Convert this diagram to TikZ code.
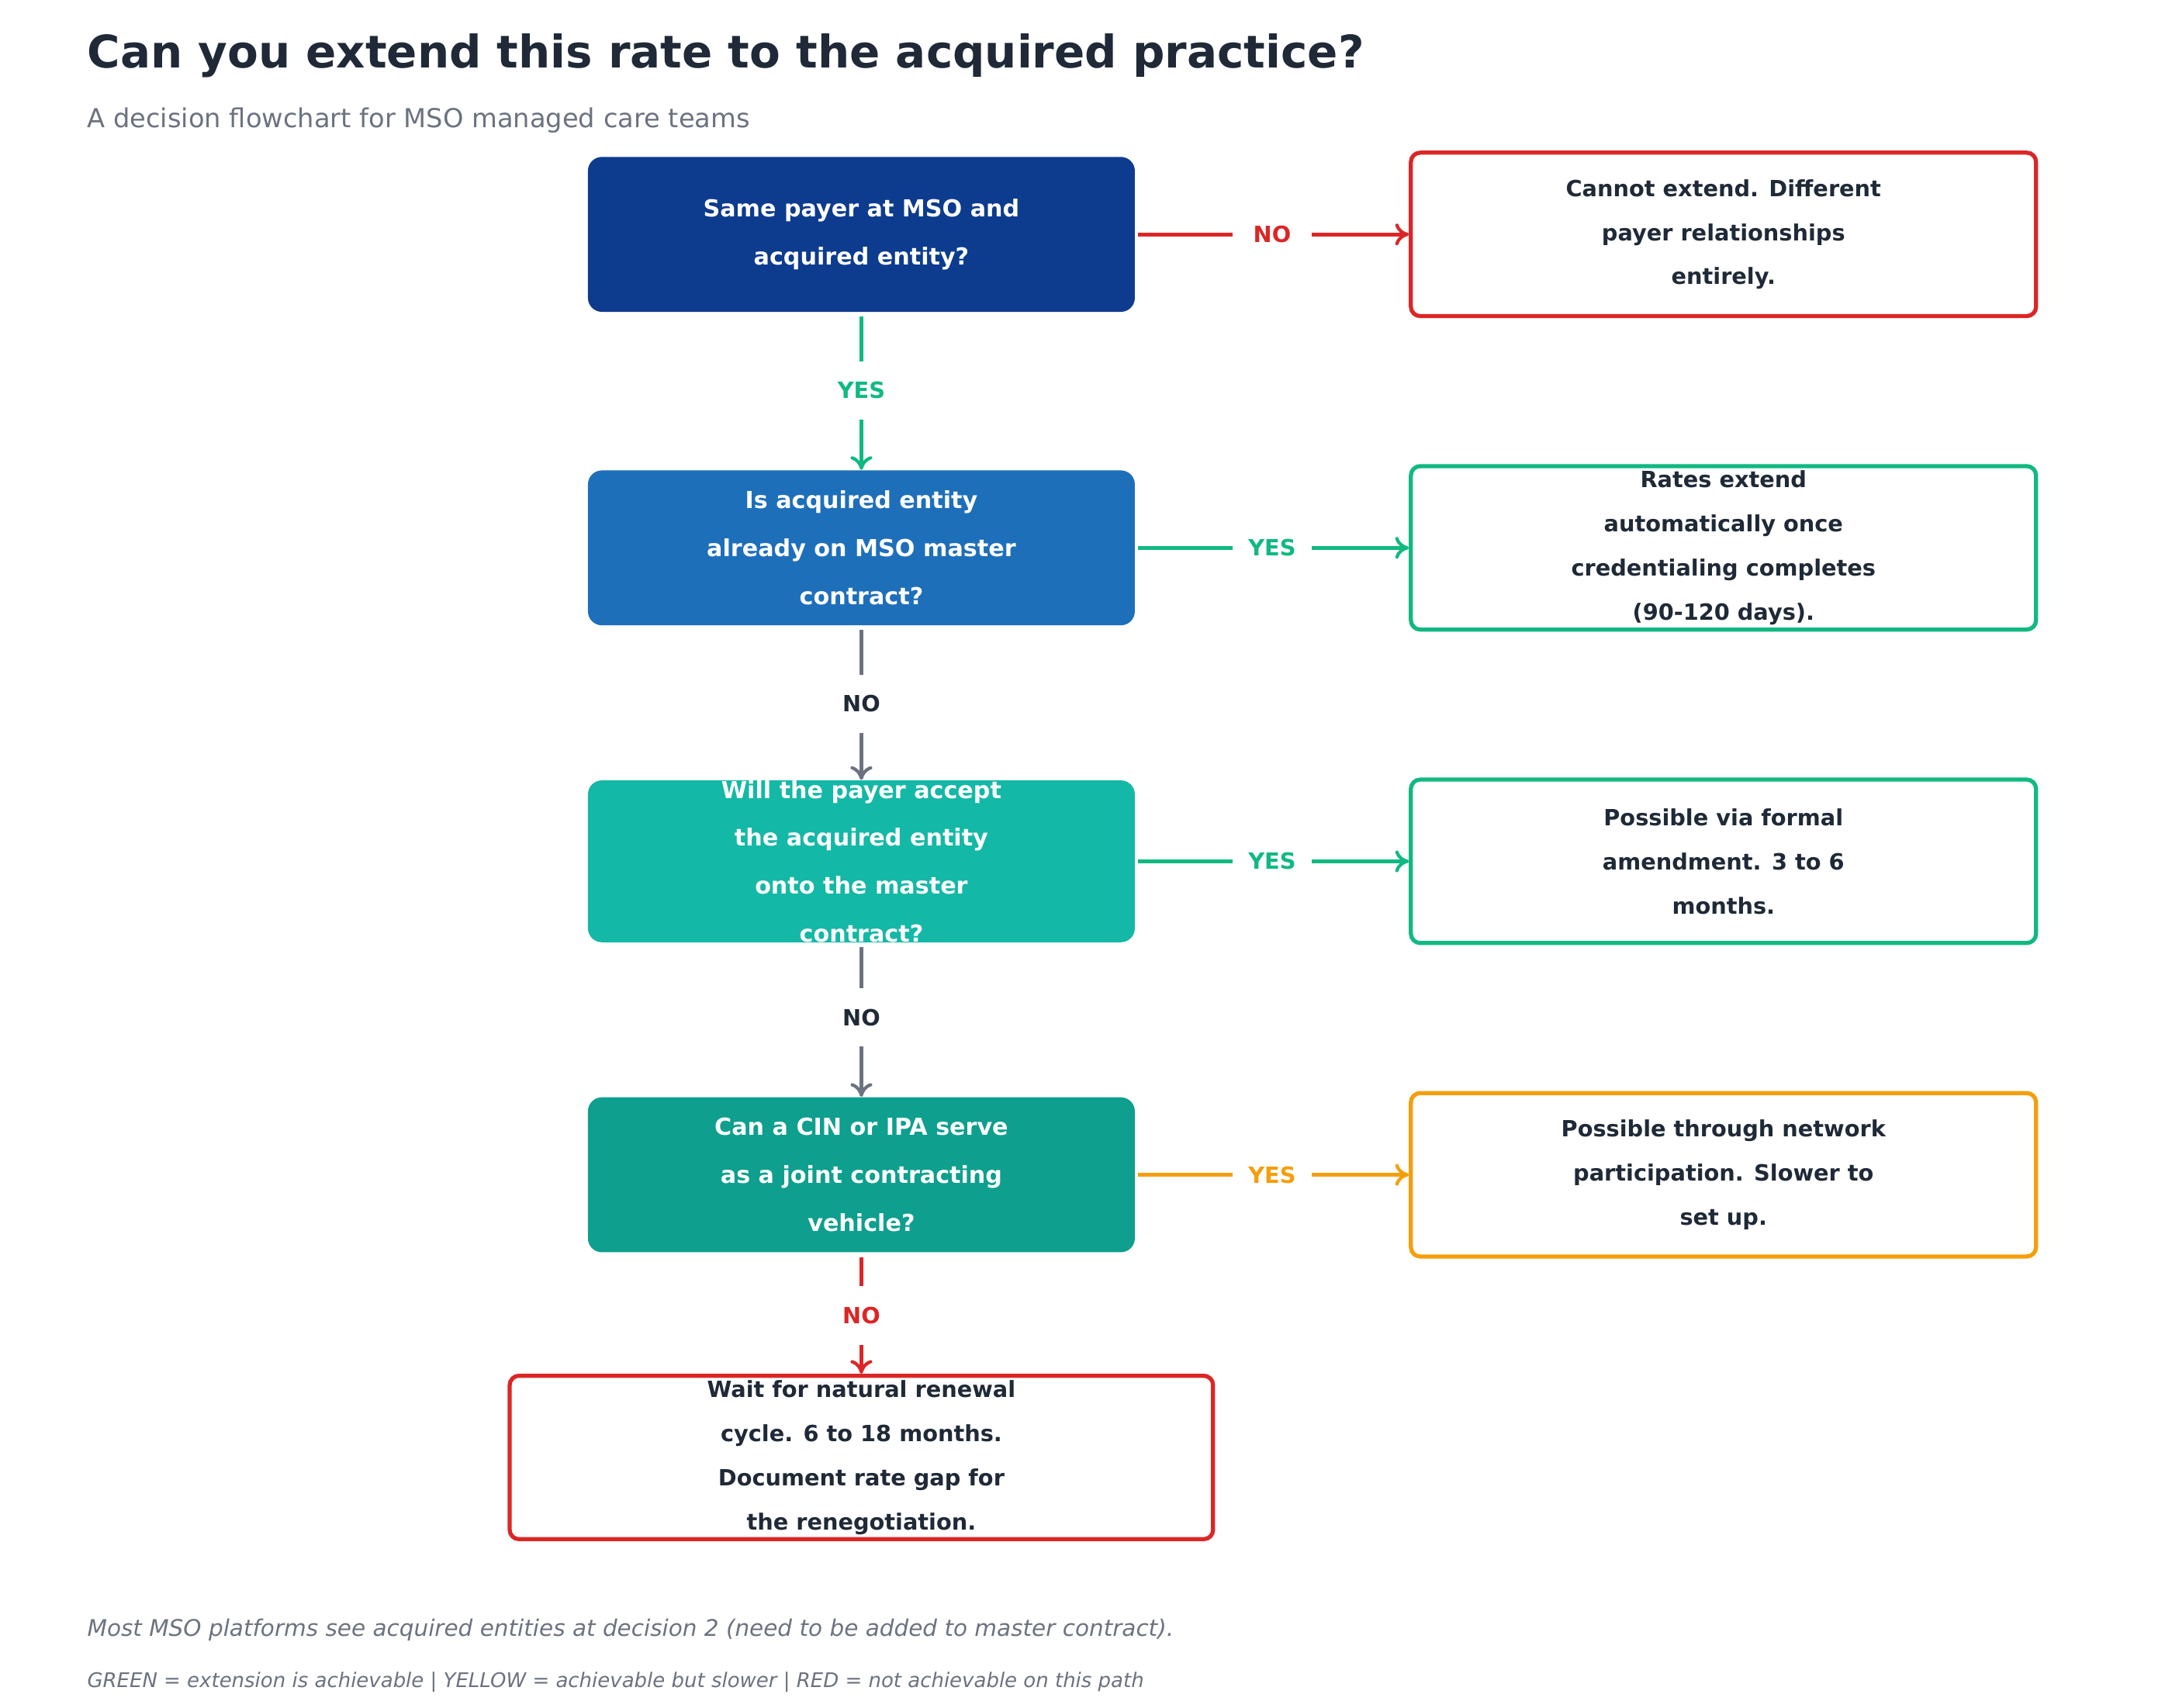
\documentclass[tikz,border=0pt]{standalone}
\usepackage{fontspec}
\setmainfont{DejaVu Sans}
\usetikzlibrary{arrows.meta,positioning}
\definecolor{ink}{HTML}{1F2937}
\definecolor{mute}{HTML}{6B7280}
\definecolor{navy}{HTML}{0D3B8E}
\definecolor{midblue}{HTML}{1E6FBA}
\definecolor{teal}{HTML}{14B8A6}
\definecolor{deepteal}{HTML}{0E9F8E}
\definecolor{okgreen}{HTML}{10B981}
\definecolor{badred}{HTML}{DC2626}
\definecolor{slowamber}{HTML}{F59E0B}
\tikzset{
  question/.style={rounded corners=0.18cm, minimum width=7.06cm, minimum height=2.0cm,
    inner sep=0pt, align=center, text=white,
    font=\fontsize{8.6}{17.6}\selectfont\bfseries},
  outcome/.style={draw, line width=1.5pt, rounded corners=0.12cm, minimum width=8.07cm,
    minimum height=2.11cm, inner sep=0pt, align=center, fill=white, text=ink,
    font=\fontsize{8.2}{16.2}\selectfont\bfseries},
  tag/.style={minimum width=1.01cm, minimum height=0.74cm, inner sep=0pt,
    font=\fontsize{8.2}{10}\selectfont\bfseries},
  link/.style={line width=1.5pt},
  arrow/.style={link, -{To[length=5pt,width=8pt,line width=1.2pt]}}
}
\begin{document}
\begin{tikzpicture}[x=0.01806cm, y=-0.01806cm]
\useasboundingbox (0,0) rectangle (1552,1220);

% title
\node[anchor=west, inner sep=0, text=ink, font=\fontsize{16.5}{20}\selectfont\bfseries] (title) at (62,40) {Can you extend this rate to the acquired practice?};
\node[anchor=west, inner sep=0, text=mute, font=\fontsize{9.6}{12}\selectfont] (subtitle) at (62,86) {A decision flowchart for MSO managed care teams};

% decisions
\node[question, fill=navy] (q1) at (615.5,167.5) {Same payer at MSO and\\acquired entity?};
\node[question, fill=midblue] (q2) at (615.5,391.5) {Is acquired entity\\already on MSO master\\contract?};
\node[question, fill=teal] (q3) at (615.5,615.5) {Will the payer accept\\the acquired entity\\onto the master\\contract?};
\node[question, fill=deepteal] (q4) at (615.5,839.5) {Can a CIN or IPA serve\\as a joint contracting\\vehicle?};

% outcomes
\node[outcome, draw=badred] (r1) at (1231.5,167.5) {Cannot extend. Different\\payer relationships\\entirely.};
\node[outcome, draw=okgreen] (r2) at (1231.5,391.5) {Rates extend\\automatically once\\credentialing completes\\(90-120 days).};
\node[outcome, draw=okgreen] (r3) at (1231.5,615.5) {Possible via formal\\amendment. 3 to 6\\months.};
\node[outcome, draw=slowamber] (r4) at (1231.5,839.5) {Possible through network\\participation. Slower to\\set up.};
\node[outcome, draw=badred, minimum width=9.08cm] (r5) at (615.5,1041.5) {Wait for natural renewal\\cycle. 6 to 18 months.\\Document rate gap for\\the renegotiation.};

% side branches
\node[tag, text=badred] (h1) at (909,167.5) {NO};
\node[tag, text=okgreen] (h2) at (909,391.5) {YES};
\node[tag, text=okgreen] (h3) at (909,615.5) {YES};
\node[tag, text=slowamber] (h4) at (909,839.5) {YES};
\draw[link, badred] (q1.east) ++(2,0) -- (h1);
\draw[arrow, badred] (h1) -- (r1.west);
\draw[link, okgreen] (q2.east) ++(2,0) -- (h2);
\draw[arrow, okgreen] (h2) -- (r2.west);
\draw[link, okgreen] (q3.east) ++(2,0) -- (h3);
\draw[arrow, okgreen] (h3) -- (r3.west);
\draw[link, slowamber] (q4.east) ++(2,0) -- (h4);
\draw[arrow, slowamber] (h4) -- (r4.west);

% main path
\node[tag, text=okgreen] (v1) at (615.5,279) {YES};
\node[tag, text=ink] (v2) at (615.5,503) {NO};
\node[tag, text=ink] (v3) at (615.5,727) {NO};
\node[tag, text=badred] (v4) at (615.5,940) {NO};
\draw[link, okgreen] (q1.south) ++(0,3) -- (v1);
\draw[arrow, okgreen] (v1) -- (q2.north);
\draw[link, mute] (q2.south) ++(0,3) -- (v2);
\draw[arrow, mute] (v2) -- (q3.north);
\draw[link, mute] (q3.south) ++(0,3) -- (v3);
\draw[arrow, mute] (v3) -- (q4.north);
\draw[link, badred] (q4.south) ++(0,3) -- (v4);
\draw[arrow, badred] (v4) -- (r5.north);

% footer
\node[anchor=west, inner sep=0, text=mute, font=\fontsize{8.4}{10}\selectfont\itshape] (note) at (62,1165) {Most MSO platforms see acquired entities at decision 2 (need to be added to master contract).};
\node[anchor=west, inner sep=0, text=mute, font=\fontsize{7.4}{9}\selectfont\itshape] (legend) at (62,1202) {GREEN = extension is achievable | YELLOW = achievable but slower | RED = not achievable on this path};
\end{tikzpicture}
\end{document}
